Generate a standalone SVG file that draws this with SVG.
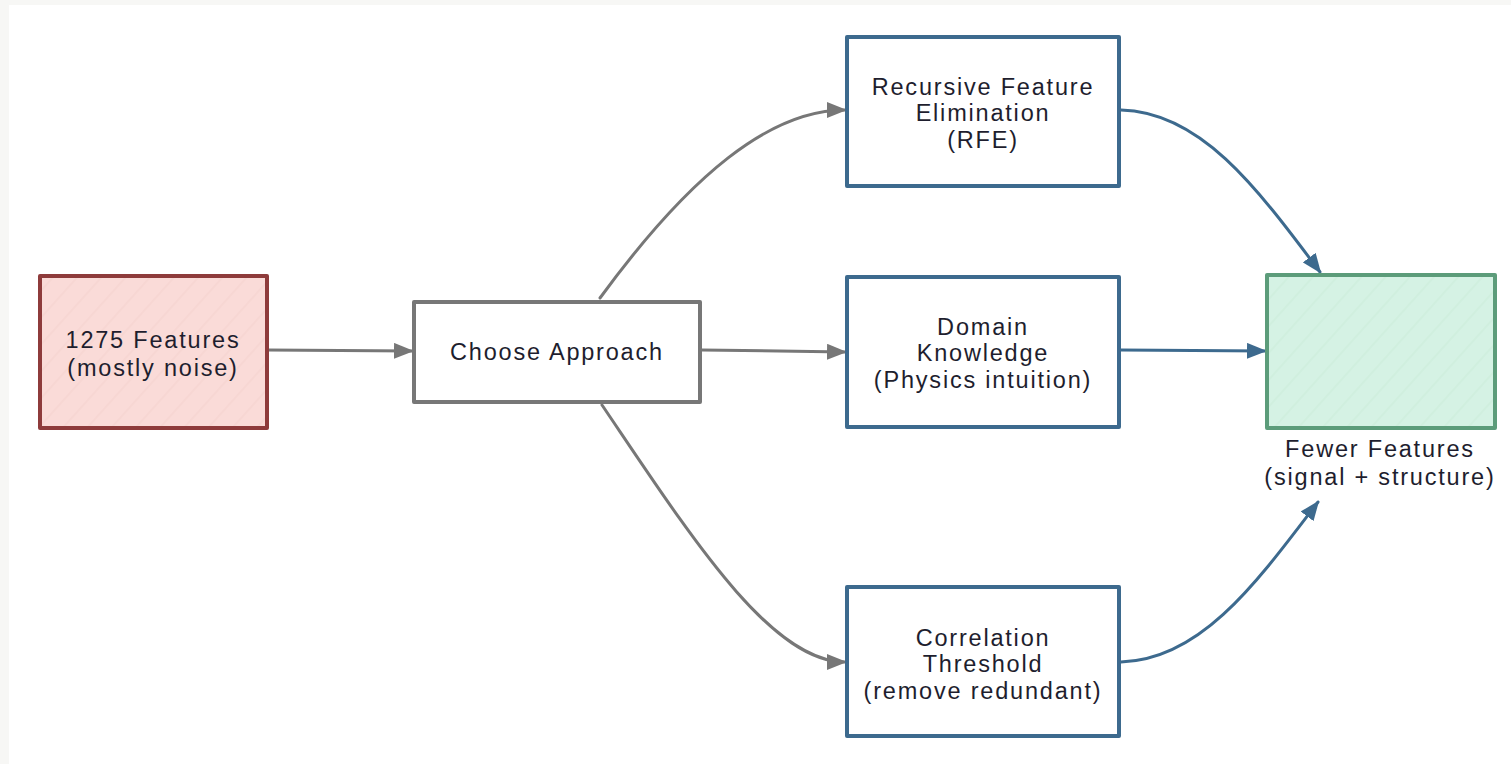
<svg xmlns="http://www.w3.org/2000/svg" width="1511" height="764" viewBox="0 0 1511 764">
<defs>
<style>
.t{font-family:"Liberation Sans","Open Sans",sans-serif;font-size:23.5px;fill:#1e1e2e;text-anchor:middle;letter-spacing:1.8px}
.gray{fill:none;stroke:#777777;stroke-width:3;stroke-linecap:round}
.blue{fill:none;stroke:#3d6a8e;stroke-width:3;stroke-linecap:round}
.box{stroke-width:4;stroke-linejoin:round}
</style>
<pattern id="hatchR" width="18" height="18" patternUnits="userSpaceOnUse" patternTransform="rotate(-48)">
<rect width="18" height="18" fill="#fadbd8"/>
<line x1="0" y1="9" x2="18" y2="9" stroke="#f1cdc9" stroke-width="0.7"/>
</pattern>
<pattern id="hatchG" width="18" height="18" patternUnits="userSpaceOnUse" patternTransform="rotate(-48)">
<rect width="18" height="18" fill="#d5f2e4"/>
<line x1="0" y1="9" x2="18" y2="9" stroke="#c6e8d6" stroke-width="0.7"/>
</pattern>
<marker id="ag" viewBox="0 0 20 16" refX="18" refY="8" markerWidth="20" markerHeight="16" markerUnits="userSpaceOnUse" orient="auto">
<path d="M0,0 L20,8 L0,16 Z" fill="#777777"/>
</marker>
<marker id="ab" viewBox="0 0 20 16" refX="18" refY="8" markerWidth="20" markerHeight="16" markerUnits="userSpaceOnUse" orient="auto">
<path d="M0,0 L20,8 L0,16 Z" fill="#3d6a8e"/>
</marker>
</defs>
<rect width="1511" height="764" fill="#f7f7f5"/>
<rect x="9" y="5" width="1502" height="759" fill="#ffffff"/>

<g id="connectors">
<path class="gray" d="M268,350 L412,351" marker-end="url(#ag)"/>
<path class="gray" d="M600,298 C690,175 770,110 845,110" marker-end="url(#ag)"/>
<path class="gray" d="M702,350 L845,352" marker-end="url(#ag)"/>
<path class="gray" d="M602,405 C690,535 770,662 845,662" marker-end="url(#ag)"/>
<path class="blue" d="M1121,110 C1200,112 1255,185 1320,272" marker-end="url(#ab)"/>
<path class="blue" d="M1121,350 L1265,351" marker-end="url(#ab)"/>
<path class="blue" d="M1121,662 C1200,660 1255,585 1318,502" marker-end="url(#ab)"/>
</g>

<g id="n-features">
<rect class="box" x="40" y="276" width="227" height="152" fill="url(#hatchR)" stroke="#8e3b3b"/>
<text class="t" x="153" y="348">1275 Features</text>
<text class="t" x="153" y="376">(mostly noise)</text>
</g>

<g id="n-choose">
<rect class="box" x="414" y="302" width="286" height="100" fill="#ffffff" stroke="#777777"/>
<text class="t" x="557" y="360">Choose Approach</text>
</g>

<g id="n-rfe">
<rect class="box" x="847" y="37" width="272" height="149" fill="#ffffff" stroke="#3d6a8e"/>
<text class="t" x="983" y="95">Recursive Feature</text>
<text class="t" x="983" y="121">Elimination</text>
<text class="t" x="983" y="148">(RFE)</text>
</g>

<g id="n-domain">
<rect class="box" x="847" y="277" width="272" height="150" fill="#ffffff" stroke="#3d6a8e"/>
<text class="t" x="983" y="335">Domain</text>
<text class="t" x="983" y="361">Knowledge</text>
<text class="t" x="983" y="388">(Physics intuition)</text>
</g>

<g id="n-corr">
<rect class="box" x="847" y="587" width="272" height="149" fill="#ffffff" stroke="#3d6a8e"/>
<text class="t" x="983" y="646">Correlation</text>
<text class="t" x="983" y="672">Threshold</text>
<text class="t" x="983" y="699">(remove redundant)</text>
</g>

<g id="n-fewer">
<rect class="box" x="1267" y="275" width="228" height="153" fill="url(#hatchG)" stroke="#5c9c7a"/>
<text class="t" x="1380" y="457">Fewer Features</text>
<text class="t" x="1380" y="485">(signal + structure)</text>
</g>
</svg>
